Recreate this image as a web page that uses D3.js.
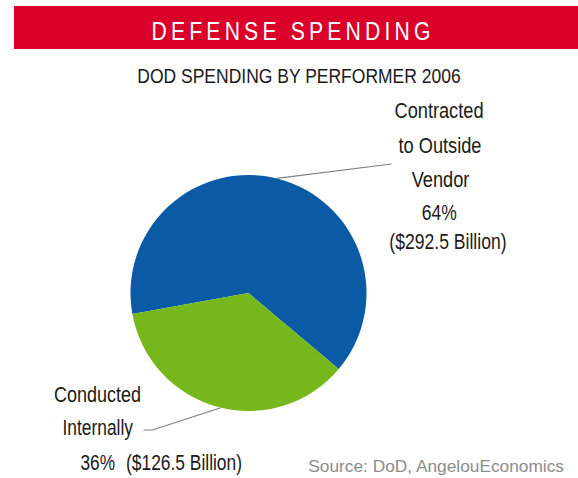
<!DOCTYPE html>
<html>
<head>
<meta charset="utf-8">
<script src="https://cdn.jsdelivr.net/npm/d3@7"></script>
<style>
  html, body { margin: 0; padding: 0; background: #fff; }
  svg { display: block; }
  text { font-family: "Liberation Sans", Arial, sans-serif; }
</style>
</head>
<body>
<svg id="chart" width="578" height="478"></svg>
<script>
// DoD spending by performer, 2006
const segments = ["Contracted to Outside Vendor", "Conducted Internally"];
const shares = [64, 36];                 // percent of total
const amounts = ["$292.5 Billion", "$126.5 Billion"];
const colors = ["#0A5AA5", "#76B81B"];

const bannerText = "DEFENSE SPENDING";
const titleText = "DOD SPENDING BY PERFORMER 2006";
const sourceText = "Source: DoD, AngelouEconomics";

const W = 578, H = 478;
const svg = d3.select("#chart");

// Condensed look: regular sans squeezed horizontally to a fixed width
function narrow(sel, width) {
  return sel.attr("textLength", width).attr("lengthAdjust", "spacingAndGlyphs");
}

// Red header banner
svg.append("rect")
  .attr("x", 14).attr("y", 6)
  .attr("width", W - 14).attr("height", 43)
  .attr("fill", "#DA0029");

// Banner caption: glyphs narrowed, then letter-spaced out to full width
const sx = 0.8;
svg.append("g")
  .attr("transform", `translate(151.5,39.6) scale(${sx},1)`)
  .append("text")
  .attr("x", 0).attr("y", 0)
  .attr("fill", "#fff")
  .attr("font-size", 26.5)
  .attr("textLength", 279 / sx)
  .attr("lengthAdjust", "spacing")
  .text(bannerText);

// Chart title
narrow(svg.append("text")
  .attr("x", 137.3).attr("y", 82.6)
  .attr("fill", "#1a1a1a")
  .attr("font-size", 21)
  .text(titleText), 323.4);

// Pie
const cx = 248.5, cy = 293, r = 118;
const startDeg = -100.3;
const pie = d3.pie()
  .sort(null)
  .value(d => d)
  .startAngle(startDeg * Math.PI / 180)
  .endAngle(startDeg * Math.PI / 180 + 2 * Math.PI);
const arc = d3.arc().innerRadius(0).outerRadius(r);

const g = svg.append("g").attr("transform", `translate(${cx},${cy})`);
const arcs = pie(shares);
g.selectAll("path.slice")
  .data(arcs)
  .join("path")
  .attr("class", "slice")
  .attr("d", arc)
  .attr("fill", (d, i) => colors[i]);

// Leader lines: from a point on each slice's rim out to its label
function rim(angleDeg) {
  const a = angleDeg * Math.PI / 180;
  return [cx + r * Math.sin(a), cy - r * Math.cos(a)];
}
const leaders = [
  [rim(13.8), [391.5, 164]],
  [rim(193.6), [152.5, 430], [143.5, 430]]
];
svg.selectAll("path.leader")
  .data(leaders)
  .join("path")
  .attr("class", "leader")
  .attr("d", d => d3.line()(d))
  .attr("fill", "none")
  .attr("stroke", "#7f7f7f")
  .attr("stroke-width", 1.1);

// Slice labels
const fmtPct = v => `${v}%`;
const labelLines = [
  { x: 394.5, y: 118.3, w: 89,    t: "Contracted" },
  { x: 398.5, y: 153.3, w: 83,    t: "to Outside" },
  { x: 411.7, y: 186.7, w: 57.7,  t: "Vendor" },
  { x: 421.7, y: 220.3, w: 35,    t: fmtPct(shares[0]) },
  { x: 389.3, y: 249.4, w: 117.3, t: `(${amounts[0]})` },
  { x: 54,    y: 401.7, w: 87,    t: "Conducted" },
  { x: 62.5,  y: 435,   w: 70.5,  t: "Internally" },
  { x: 80.5,  y: 470,   w: 34.5,  t: fmtPct(shares[1]) },
  { x: 126,   y: 470,   w: 116,   t: `(${amounts[1]})` }
];
svg.selectAll("text.lbl")
  .data(labelLines)
  .join("text")
  .attr("class", "lbl")
  .attr("x", d => d.x).attr("y", d => d.y)
  .attr("font-size", 21.5)
  .attr("fill", "#1a1a1a")
  .attr("textLength", d => d.w)
  .attr("lengthAdjust", "spacingAndGlyphs")
  .text(d => d.t);

// Source note
narrow(svg.append("text")
  .attr("x", 308.3).attr("y", 472.3)
  .attr("font-size", 17)
  .attr("fill", "#8c8c8c")
  .text(sourceText), 255.7);
</script>
</body>
</html>
